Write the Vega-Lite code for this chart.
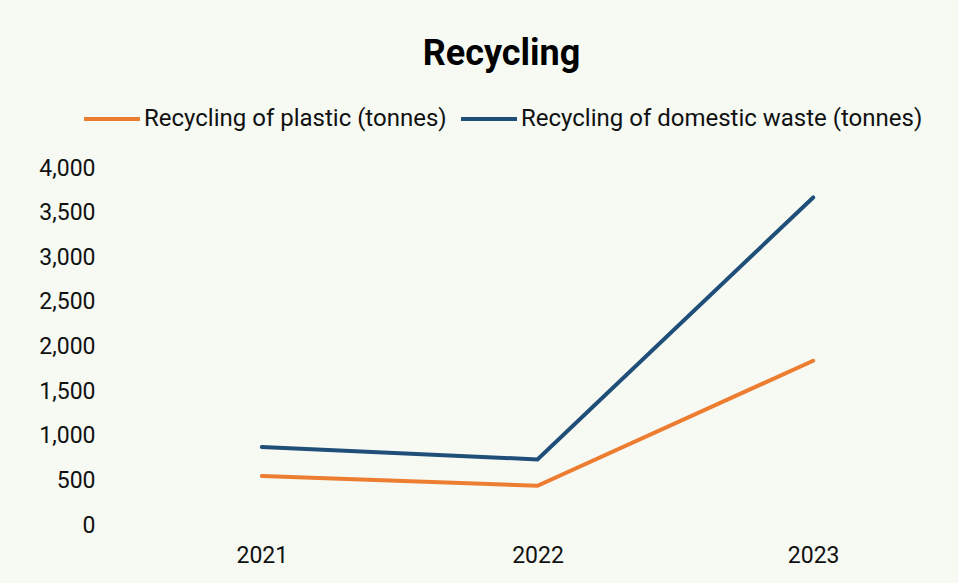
{
  "$schema": "https://vega.github.io/schema/vega-lite/v6.json",
  "width": 827,
  "height": 357,
  "autosize": {"type": "none"},
  "padding": {"left": 124, "top": 168, "right": 7, "bottom": 58},
  "background": "#f6faf3",
  "title": {
    "text": "Recycling",
    "font": "Roboto",
    "fontSize": 36,
    "fontWeight": "bold",
    "color": "#000000",
    "anchor": "middle",
    "frame": "group",
    "dx": -36,
    "offset": 16
  },
  "config": {
    "view": {"stroke": null},
    "font": "Roboto"
  },
  "data": {
    "values": [
      {"year": "2021", "series": "Recycling of plastic (tonnes)", "value": 550},
      {"year": "2022", "series": "Recycling of plastic (tonnes)", "value": 440},
      {"year": "2023", "series": "Recycling of plastic (tonnes)", "value": 1840},
      {"year": "2021", "series": "Recycling of domestic waste (tonnes)", "value": 875},
      {"year": "2022", "series": "Recycling of domestic waste (tonnes)", "value": 735},
      {"year": "2023", "series": "Recycling of domestic waste (tonnes)", "value": 3670}
    ]
  },
  "mark": {"type": "line", "strokeWidth": 4, "strokeCap": "round", "strokeJoin": "miter"},
  "encoding": {
    "x": {
      "field": "year",
      "type": "ordinal",
      "scale": {"type": "point", "padding": 0.5},
      "axis": {
        "title": null,
        "labelAngle": 0,
        "domain": false,
        "ticks": false,
        "labelFont": "Roboto",
        "labelFontSize": 23,
        "labelColor": "#111111",
        "labelPadding": 19
      }
    },
    "y": {
      "field": "value",
      "type": "quantitative",
      "scale": {"domain": [0, 4000], "nice": false},
      "axis": {
        "title": null,
        "values": [0, 500, 1000, 1500, 2000, 2500, 3000, 3500, 4000],
        "format": ",.0f",
        "domain": false,
        "ticks": false,
        "grid": false,
        "labelFont": "Roboto",
        "labelFontSize": 23,
        "labelColor": "#111111",
        "labelPadding": 29
      }
    },
    "color": {
      "field": "series",
      "type": "nominal",
      "scale": {
        "domain": ["Recycling of plastic (tonnes)", "Recycling of domestic waste (tonnes)"],
        "range": ["#ed7d31", "#1f4e79"]
      },
      "legend": {
        "title": null,
        "orient": "none",
        "direction": "horizontal",
        "legendX": -42,
        "legendY": -79,
        "symbolType": "stroke",
        "symbolSize": 3136,
        "symbolStrokeWidth": 4,
        "labelFont": "Roboto",
        "labelFontSize": 24,
        "labelColor": "#111111",
        "labelOffset": 2,
        "columnPadding": 6,
        "labelLimit": 0
      }
    }
  }
}
